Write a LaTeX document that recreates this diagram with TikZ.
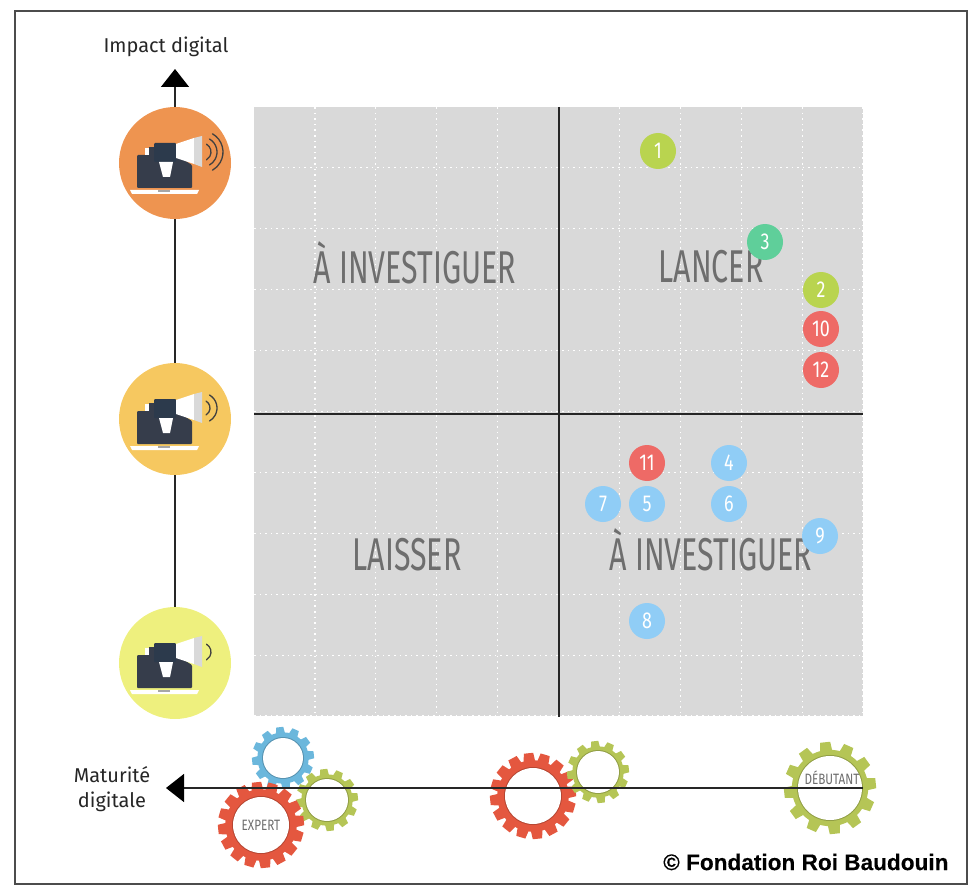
\documentclass[tikz,border=0pt]{standalone}
\usepackage{fontspec}
\setmainfont{Fira Sans}
\newfontfamily\narrowfont[FakeStretch=0.78]{Fira Sans}
\newfontfamily\tallfont[FakeStretch=0.66]{Fira Sans}
\newfontfamily\boldfont[FakeBold=0.2]{Liberation Sans Bold}
\usetikzlibrary{arrows.meta}
\definecolor{gridgray}{HTML}{D9D9D9}
\definecolor{wordgray}{HTML}{6E6E6E}
\definecolor{lime}{HTML}{B9D44F}
\definecolor{teal}{HTML}{5FCF9A}
\definecolor{coral}{HTML}{EE6A66}
\definecolor{sky}{HTML}{90CDF6}
\definecolor{slate}{HTML}{363D4B}
\definecolor{navy}{HTML}{2C3A4C}
\definecolor{gearred}{HTML}{E4573F}
\definecolor{gearolive}{HTML}{B5C556}
\definecolor{gearblue}{HTML}{6BB7DC}
\tikzset{
  dotnum/.style={circle,minimum size=36pt,inner sep=0pt,text=white,font=\narrowfont\fontsize{23}{23}\selectfont},
  quadword/.style={text=wordgray,font=\tallfont\fontsize{46}{46}\selectfont},
  levelcircle/.style={circle,minimum size=112pt,inner sep=0pt},
  axisline/.style={line width=1.4pt,black!85},
  axistip/.style={-{Triangle[length=18pt,width=28pt,fill=black,color=black]}},
  griddots/.style={white,dash pattern=on 1.6pt off 4pt,line width=1.2pt},
  gearhole/.style={circle,fill=white,inner sep=0pt},
  gearword/.style={text=wordgray,font=\narrowfont\fontsize{15}{15}\selectfont},
  axisword/.style={align=center,text=black!85,font=\fontsize{20}{25}\selectfont}
}
% gear: name, x, y, outer radius, hole radius, teeth, colour
\newcommand{\gearwheel}[7]{
  \begin{scope}[shift={(#2,#3)}]
    \pgfmathsetmacro{\bodyr}{0.83*#4}
    \pgfmathsetmacro{\toothw}{0.1*#4+0.8}
    \foreach \k in {1,...,#6}{
      \pgfmathsetmacro{\ang}{\k*360/#6+6}
      \fill[#7,rotate=\ang] (-\toothw-0.8,\bodyr-2) -- (-\toothw+0.4,#4) -- (\toothw-0.4,#4) -- (\toothw+0.8,\bodyr-2) -- cycle;
    }
    \fill[#7] (0,0) circle (\bodyr);
    \fill[#7!80!black] (0,0) circle (#5+1);
  \end{scope}
  \node[gearhole,minimum size=2*#5 pt] (#1) at (#2,#3) {};
}
% laptop and megaphone, with the given sound wave radii
\newcommand{\loudicon}[4]{
  \begin{scope}[shift={(#1,#2)}]
    \fill[slate,rounded corners=1pt] (-38,-8) -- (1,-8) -- (17,2) -- (17,25) -- (-38,25) -- cycle;
    \fill[white] (-45,27) -- (24,27) -- (22,31) -- (-43,31) -- cycle;
    \fill[black!35] (-17,27) rectangle (-5,29);
    \fill[slate] (-26,-16) rectangle (-21,-4);
    \fill[white] (-30,-15) rectangle (-26,-8);
    \fill[navy,rounded corners=1pt] (-21,-20) rectangle (1,-1);
    \fill[white] (1,-19) -- (19,-25) -- (19,1) -- (1,-5) -- cycle;
    \fill[gridgray] (19,-25) -- (27,-27) -- (27,4) -- (19,1) -- cycle;
    \fill[white] (-16,-1) -- (-2,-1) -- (-5,14) -- (-12,14) -- cycle;
    \foreach \wr in {#3}{
      \draw[line width=1.3pt,#4,line cap=round] (27,-11) ++(-60:\wr) arc (-60:60:\wr);
    }
  \end{scope}
}
\begin{document}
\begin{tikzpicture}[x=1pt,y=-1pt]
\useasboundingbox (0,0) rectangle (980,896);
\draw[line width=1.2pt,black!70] (15,11) rectangle (967,884);

\fill[gridgray] (254,107) rectangle (863,716);
\foreach \k in {1,...,10}{
  \draw[griddots] (254+60.9*\k,107) -- (254+60.9*\k,716);
  \draw[griddots] (254,107+60.9*\k) -- (863,107+60.9*\k);
}
\coordinate (qtop) at (559,107);
\coordinate (qbottom) at (559,717);
\coordinate (qleft) at (254,414);
\coordinate (qright) at (863,414);
\draw[line width=1.2pt,black!85] (qtop) -- (qbottom);
\draw[line width=1.2pt,black!85] (qleft) -- (qright);

\node[quadword] (topleft) at (415,263) {À INVESTIGUER};
\node[quadword] (topright) at (711,267) {LANCER};
\node[quadword] (bottomleft) at (407,555) {LAISSER};
\node[quadword] (bottomright) at (711,550) {À INVESTIGUER};

\node[dotnum,fill=lime] (dot1) at (658,151) {1};
\node[dotnum,fill=teal] (dot3) at (765,242) {3};
\node[dotnum,fill=lime] (dot2) at (821,290) {2};
\node[dotnum,fill=coral] (dot10) at (821,329) {10};
\node[dotnum,fill=coral] (dot12) at (821,370) {12};
\node[dotnum,fill=coral] (dot11) at (647,463) {11};
\node[dotnum,fill=sky] (dot4) at (729,463) {4};
\node[dotnum,fill=sky] (dot7) at (603,504) {7};
\node[dotnum,fill=sky] (dot5) at (647,504) {5};
\node[dotnum,fill=sky] (dot6) at (729,504) {6};
\node[dotnum,fill=sky] (dot9) at (820,536) {9};
\node[dotnum,fill=sky] (dot8) at (647,621) {8};

\node[levelcircle,fill={rgb,255:red,238;green,148;blue,80}] (high) at (175,163) {};
\node[levelcircle,fill={rgb,255:red,246;green,200;blue,96}] (mid) at (175,419) {};
\node[levelcircle,fill={rgb,255:red,238;green,240;blue,126}] (low) at (175,663) {};
\coordinate (impacttip) at (175,69);
\draw[axisline,axistip] (high) -- (impacttip);
\draw[axisline] (mid) -- (high);
\draw[axisline] (low) -- (mid);
\loudicon{175}{163}{9,15,21}{black!75}
\loudicon{175}{419}{8,15}{black!75}
\loudicon{175}{663}{9}{black!75}
\node[axisword] (impact) at (166,47) {Impact digital};

\gearwheel{bluegear}{283}{758}{31}{20}{12}{gearblue}
\gearwheel{olivegear}{327}{800}{31}{21}{12}{gearolive}
\gearwheel{expert}{261}{825}{43}{28}{16}{gearred}
\gearwheel{redgear}{533}{796}{43}{28}{16}{gearred}
\gearwheel{midgear}{598}{772}{31}{21}{12}{gearolive}
\gearwheel{debutant}{830}{788}{46}{32}{12}{gearolive}
\node[gearword] (expertword) at (expert) {EXPERT};
\node[gearword] (debutantword) at (832,778) {DÉBUTANT};

\coordinate (axisright) at (863,788);
\coordinate (axisleft) at (166,788);
\draw[axisline,axistip] (axisright) -- (axisleft);
\node[axisword] (maturite) at (112,789) {Maturité\\digitale};

\node[font=\boldfont\fontsize{22.6}{22.6}\selectfont,black,anchor=east] (credit) at (952,862) {© Fondation Roi Baudouin};
\end{tikzpicture}
\end{document}
